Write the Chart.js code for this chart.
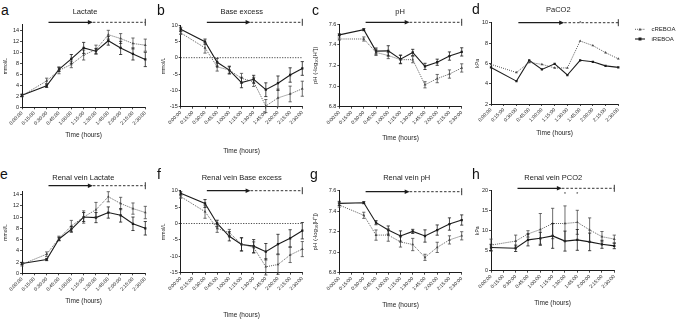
<!DOCTYPE html>
<html>
<head>
<meta charset="utf-8">
<script src="https://cdn.jsdelivr.net/npm/chart.js@4/dist/chart.umd.min.js"></script>
<style>
  html, body { margin: 0; padding: 0; background: #fff; }
  #fig { position: relative; width: 677px; height: 321px; overflow: hidden; }
  #fig canvas { position: absolute; }
  .tag { position: absolute; font: 14px "Liberation Sans", Arial, sans-serif; color: #111; line-height: 1; }
</style>
</head>
<body>
<div id="fig"></div>
<script>
/* ── data ── */
const TIMES  = ["0:00:00", "0:15:00", "0:30:00", "0:45:00", "1:00:00", "1:15:00",
                "1:30:00", "1:45:00", "2:00:00", "2:15:00", "2:30:00"];
const SERIES = ["cREBOA", "iREBOA"];

// a  Lactate (mmol/L)
const LAC_C    = [2.1, null, 4.8, 6.7, 7.8, 9.5, 10.5, 13.2, 12.5, 11.6, 11.3];
const LAC_C_SD = [0.2, null, 0.5, 0.6, 0.6, 0.9, 0.8, 0.8, 0.9, 1.0, 1.1];
const LAC_I    = [2.2, null, 3.9, 6.9, 8.8, 10.8, 10.2, 12.1, 10.8, 9.7, 8.7];
const LAC_I_SD = [0.2, null, 0.3, 0.4, 0.8, 1.0, 0.5, 0.8, 1.2, 1.1, 1.3];

// b  Base excess (mmol/L)
const BE_C    = [7.6, null, 3.0, -2.8, -3.8, -6.3, -7.4, -14.8, -12.3, -11.1, -9.5];
const BE_C_SD = [0.5, null, 1.6, 1.3, 1.0, 1.5, 1.4, 2.0, 2.7, 2.4, 2.3];
const BE_I    = [8.7, null, 4.9, -1.4, -3.8, -7.6, -6.6, -9.8, -7.8, -5.3, -3.3];
const BE_I_SD = [0.6, null, 0.8, 1.2, 1.2, 1.6, 1.2, 2.1, 2.2, 2.2, 2.1];

// c  pH
const PH_C    = [7.455, null, 7.455, 7.325, 7.295, 7.255, 7.255, 7.012, 7.072, 7.116, 7.175];
const PH_C_SD = [0.01, null, 0.02, 0.03, 0.03, 0.04, 0.03, 0.03, 0.04, 0.04, 0.04];
const PH_I    = [7.495, null, 7.545, 7.338, 7.34, 7.26, 7.325, 7.19, 7.23, 7.29, 7.33];
const PH_I_SD = [0.01, null, 0.01, 0.03, 0.05, 0.04, 0.03, 0.03, 0.03, 0.04, 0.04];

// d  PaCO2 (kPa)
const PACO2_C = [5.9, null, 5.1, 6.1, 5.9, 5.55, 5.55, 8.2, 7.75, 7.05, 6.45];
const PACO2_I = [5.6, null, 4.25, 6.3, 5.4, 5.95, 4.85, 6.3, 6.15, 5.75, 5.6];

// e  Renal vein lactate (mmol/L)
const RV_LAC_C    = [1.6, null, 3.4, 6.2, 8.4, 10.0, 11.3, 13.6, 12.4, 11.5, 10.8];
const RV_LAC_C_SD = [0.3, null, 0.4, 0.4, 1.0, 1.1, 1.3, 0.9, 1.1, 1.0, 1.1];
const RV_LAC_I    = [1.75, null, 2.45, 6.1, 7.8, 10.0, 9.9, 10.8, 10.3, 8.8, 8.0];
const RV_LAC_I_SD = [0.2, null, 0.2, 0.3, 0.5, 0.8, 0.9, 1.0, 1.2, 1.2, 1.2];

// f  Renal vein base excess (mmol/L)
const RV_BE_C    = [8.2, null, 3.6, -1.5, -2.8, -6.3, -7.3, -13.2, -12.5, -9.6, -7.8];
const RV_BE_C_SD = [0.5, null, 2.0, 1.2, 1.0, 2.0, 1.7, 2.5, 3.0, 2.3, 2.3];
const RV_BE_I    = [9.2, null, 6.1, 0.0, -3.9, -6.4, -6.9, -8.6, -6.3, -4.5, -2.2];
const RV_BE_I_SD = [0.5, null, 1.2, 1.0, 1.4, 2.0, 2.0, 2.5, 3.0, 2.6, 2.5];

// g  Renal vein pH
const RV_PH_C    = [7.46, null, 7.36, 7.167, 7.167, 7.1, 7.075, 6.95, 7.047, 7.12, 7.16];
const RV_PH_C_SD = [0.02, null, 0.03, 0.05, 0.06, 0.05, 0.06, 0.03, 0.05, 0.04, 0.04];
const RV_PH_I    = [7.476, null, 7.483, 7.288, 7.216, 7.158, 7.203, 7.158, 7.216, 7.275, 7.314];
const RV_PH_I_SD = [0.02, null, 0.01, 0.02, 0.04, 0.05, 0.02, 0.06, 0.05, 0.06, 0.05];

// h  Renal vein PCO2 (kPa)
const RV_PCO2_C    = [6.4, null, 7.4, 9.2, 10.3, 11.8, 11.8, 12.1, 10.2, 8.5, 7.9];
const RV_PCO2_C_SD = [1.5, null, 1.5, 0.8, 4.0, 3.8, 4.4, 3.0, 3.0, 1.3, 1.0];
const RV_PCO2_I    = [5.8, null, 5.6, 7.7, 8.1, 8.7, 7.4, 7.7, 7.2, 6.6, 6.2];
const RV_PCO2_I_SD = [0.8, null, 0.8, 1.5, 1.5, 3.1, 2.5, 2.6, 2.2, 1.0, 0.7];

// y tick labels
const TICKS_LAC   = [0, 2, 4, 6, 8, 10, 12, 14];
const TICKS_BE    = [-15, -10, -5, 0, 5, 10];
const TICKS_PH    = [6.8, 7.0, 7.2, 7.4, 7.6];
const TICKS_PACO2 = [2, 4, 6, 8, 10];
const TICKS_PCO2  = [0, 5, 10, 15, 20];

// intervention phases along the time axis (category index): start, end of occlusion, end
const PHASES = [2.15, 5.75, 10];

// significance marks (category index)
const STARS_D = [7];
const STARS_H = [6, 7];

/* ── style ── */
const FONT  = "'Liberation Sans', Arial, sans-serif";
const BLACK = "#1c1c1c";
const GREY  = "#484848";

/* ── panels (layout in page px) ── */
const PANELS = [
  { tag: "a", tagX: 1,   tagY: 3,     left: 3,   top: 0,   w: 157, h: 139, x0: 22,    x1: 145.3, yTop: 24.8,  yBot: 107.3,
    min: 0, max: 15, ticks: TICKS_LAC, yTitle: "mmol/L", yFont: 5, title: "Lactate", titleX: 85, titleY: 12.3, arrowY: 22.3,
    c: LAC_C, cSd: LAC_C_SD, i: LAC_I, iSd: LAC_I_SD },
  { tag: "b", tagX: 157, tagY: 3,     left: 161, top: 0,   w: 165, h: 155, x0: 180.7, x1: 302.3, yTop: 25,    yBot: 106.7,
    min: -15, max: 10, ticks: TICKS_BE, yTitle: "mmol/L", yFont: 5, title: "Base excess", titleX: 241.7, titleY: 12, arrowY: 22.3,
    zero: true, c: BE_C, cSd: BE_C_SD, i: BE_I, iSd: BE_I_SD },
  { tag: "c", tagX: 312, tagY: 3,     left: 312, top: 0,   w: 160, h: 142, x0: 339.3, x1: 461.7, yTop: 24,    yBot: 106.7,
    min: 6.8, max: 7.6, ticks: TICKS_PH, dec: 1, yTitle: "pH (-log\u2081\u2080[H\u207A])", yFont: 6, title: "pH", titleX: 400, titleY: 12.3, arrowY: 22.3,
    c: PH_C, cSd: PH_C_SD, i: PH_I, iSd: PH_I_SD },
  { tag: "d", tagX: 472, tagY: 1.5,   left: 475, top: 0,   w: 202, h: 137, x0: 491,   x1: 618.3, yTop: 22.7,  yBot: 104,
    min: 2, max: 10, ticks: TICKS_PACO2, yTitle: "kPa", yFont: 5, title: "PaCO2", titleX: 558.3, titleY: 10, arrowY: 22.7,
    stars: STARS_D, starY: 24, legend: true, c: PACO2_C, i: PACO2_I },
  { tag: "e", tagX: 0,   tagY: 166.5, left: 3,   top: 160, w: 157, h: 145, x0: 22,    x1: 145.3, yTop: 191.7, yBot: 273.3,
    min: 0, max: 14.5, ticks: TICKS_LAC, yTitle: "mmol/L", yFont: 5, title: "Renal vein Lactate", titleX: 83.3, titleY: 178, arrowY: 185.7,
    c: RV_LAC_C, cSd: RV_LAC_C_SD, i: RV_LAC_I, iSd: RV_LAC_I_SD },
  { tag: "f", tagX: 157, tagY: 166.5, left: 161, top: 160, w: 165, h: 159, x0: 180.7, x1: 302.3, yTop: 190.7, yBot: 272.7,
    min: -15, max: 10, ticks: TICKS_BE, yTitle: "mmol/L", yFont: 5, title: "Renal vein Base excess", titleX: 241.7, titleY: 178, arrowY: 190.7,
    zero: true, c: RV_BE_C, cSd: RV_BE_C_SD, i: RV_BE_I, iSd: RV_BE_I_SD },
  { tag: "g", tagX: 310, tagY: 166.5, left: 312, top: 160, w: 160, h: 149, x0: 339.3, x1: 461.7, yTop: 190.7, yBot: 272.7,
    min: 6.8, max: 7.6, ticks: TICKS_PH, dec: 1, yTitle: "pH (-log\u2081\u2080[H\u207A])", yFont: 6, title: "Renal vein pH", titleX: 406.7, titleY: 178, arrowY: 191.7,
    c: RV_PH_C, cSd: RV_PH_C_SD, i: RV_PH_I, iSd: RV_PH_I_SD },
  { tag: "h", tagX: 472, tagY: 166.5, left: 475, top: 160, w: 202, h: 147, x0: 491,   x1: 614.3, yTop: 190.7, yBot: 270.7,
    min: 0, max: 20, ticks: TICKS_PCO2, yTitle: "kPa", yFont: 5, title: "Renal vein PCO2", titleX: 553.3, titleY: 178, arrowY: 188.3,
    stars: STARS_H, starY: 195, c: RV_PCO2_C, cSd: RV_PCO2_C_SD, i: RV_PCO2_I, iSd: RV_PCO2_I_SD },
];

/* ── decorations: zero line, error bars, title, arrow, stars, legend ── */
function decorFor(p) {
  const ox = p.left, oy = p.top;
  return {
    id: "decor",
    beforeDatasetsDraw(chart) {
      if (!p.zero) return;
      const { ctx, chartArea: a, scales: { y } } = chart;
      const yy = y.getPixelForValue(0);
      ctx.save();
      ctx.strokeStyle = BLACK;
      ctx.lineWidth = 0.8;
      ctx.setLineDash([1.2, 1.4]);
      ctx.beginPath(); ctx.moveTo(a.left, yy); ctx.lineTo(a.right, yy); ctx.stroke();
      ctx.restore();
    },
    afterDatasetsDraw(chart) {
      const { ctx, scales: { y } } = chart;
      ctx.save();
      chart.data.datasets.forEach((ds, di) => {
        if (!ds.errors) return;
        const meta = chart.getDatasetMeta(di);
        ctx.strokeStyle = ds.borderColor;
        ctx.lineWidth = 0.8;
        ds.data.forEach((v, j) => {
          const e = ds.errors[j];
          if (v == null || !e) return;
          const x = meta.data[j].x;
          const hi = y.getPixelForValue(v + e), lo = y.getPixelForValue(v - e);
          ctx.beginPath();
          ctx.moveTo(x, hi); ctx.lineTo(x, lo);
          ctx.moveTo(x - 1.6, hi); ctx.lineTo(x + 1.6, hi);
          ctx.moveTo(x - 1.6, lo); ctx.lineTo(x + 1.6, lo);
          ctx.stroke();
        });
      });
      ctx.restore();
    },
    afterDraw(chart) {
      const { ctx, scales: { x } } = chart;
      ctx.save();
      // title
      ctx.fillStyle = BLACK;
      ctx.font = `7.5px ${FONT}`;
      ctx.textAlign = "center";
      ctx.textBaseline = "middle";
      ctx.fillText(p.title, p.titleX - ox, p.titleY - oy);

      // arrow: solid occlusion phase, dashed after, bar at end
      const ya = p.arrowY - oy;
      const xs = x.getPixelForValue(PHASES[0]);
      const xt = x.getPixelForValue(PHASES[1]);
      const xe = x.getPixelForValue(PHASES[2]);
      ctx.strokeStyle = BLACK;
      ctx.lineWidth = 1.3;
      ctx.beginPath(); ctx.moveTo(xs, ya); ctx.lineTo(xt - 4, ya); ctx.stroke();
      ctx.beginPath(); ctx.moveTo(xt, ya); ctx.lineTo(xt - 5, ya - 2.3); ctx.lineTo(xt - 5, ya + 2.3); ctx.closePath(); ctx.fill();
      ctx.lineWidth = 0.9;
      ctx.setLineDash([2.5, 1.8]);
      ctx.beginPath(); ctx.moveTo(xt, ya); ctx.lineTo(xe, ya); ctx.stroke();
      ctx.setLineDash([]);
      ctx.beginPath(); ctx.moveTo(xe, ya - 3.5); ctx.lineTo(xe, ya + 3.5); ctx.stroke();

      // significance
      if (p.stars) {
        ctx.font = `5px ${FONT}`;
        p.stars.forEach(k => ctx.fillText("*", x.getPixelForValue(k), p.starY - oy));
      }

      // legend
      if (p.legend) {
        const rows = [
          { label: SERIES[0], color: GREY, dash: [1, 1.1], y: 29.3, marker: "tri" },
          { label: SERIES[1], color: BLACK, dash: [], y: 39, marker: "rect" },
        ];
        rows.forEach(r => {
          const ly = r.y - oy;
          ctx.strokeStyle = r.color;
          ctx.fillStyle = r.color;
          ctx.lineWidth = r.dash.length ? 0.9 : 1.1;
          ctx.setLineDash(r.dash);
          ctx.beginPath(); ctx.moveTo(635 - ox, ly); ctx.lineTo(645 - ox, ly); ctx.stroke();
          ctx.setLineDash([]);
          if (r.marker === "rect") ctx.fillRect(640 - ox - 1.5, ly - 1.5, 3, 3);
          else { ctx.beginPath(); ctx.moveTo(640 - ox, ly - 1.6); ctx.lineTo(641.5 - ox, ly + 1.1); ctx.lineTo(638.5 - ox, ly + 1.1); ctx.closePath(); ctx.fill(); }
          ctx.fillStyle = BLACK;
          ctx.font = `6px ${FONT}`;
          ctx.textAlign = "left";
          ctx.fillText(r.label, 651.5 - ox, ly);
        });
      }
      ctx.restore();
    },
  };
}

/* ── build ── */
const fig = document.getElementById("fig");

function makePanel(p) {
  const tag = document.createElement("div");
  tag.className = "tag";
  tag.textContent = p.tag;
  tag.style.left = p.tagX + "px";
  tag.style.top = p.tagY + "px";
  fig.appendChild(tag);

  const cv = document.createElement("canvas");
  cv.width = p.w;
  cv.height = p.h;
  cv.style.left = p.left + "px";
  cv.style.top = p.top + "px";
  fig.appendChild(cv);

  const yW = p.x0 - p.left;
  const xH = p.h - (p.yBot - p.top);

  new Chart(cv, {
    type: "line",
    data: {
      labels: TIMES,
      datasets: [
        {
          label: SERIES[0], data: p.c, errors: p.cSd,
          borderColor: GREY, borderWidth: 0.9, borderDash: [1, 1.1],
          pointStyle: "triangle", pointRadius: 1.6, pointBackgroundColor: GREY, pointBorderWidth: 0,
          spanGaps: true, tension: 0,
        },
        {
          label: SERIES[1], data: p.i, errors: p.iSd,
          borderColor: BLACK, borderWidth: 1.1,
          pointStyle: "rect", pointRadius: 1.6, pointBackgroundColor: BLACK, pointBorderWidth: 0,
          spanGaps: true, tension: 0,
        },
      ],
    },
    options: {
      responsive: false,
      animation: false,
      devicePixelRatio: 1,
      events: [],
      layout: { padding: { left: 0, top: p.yTop - p.top, right: p.left + p.w - p.x1, bottom: 0 } },
      plugins: { legend: { display: false }, tooltip: { enabled: false } },
      scales: {
        x: {
          type: "category",
          offset: false,
          grid: { drawOnChartArea: false, tickLength: 2, color: BLACK, lineWidth: 0.8 },
          border: { color: BLACK, width: 1 },
          ticks: { minRotation: 45, maxRotation: 45, autoSkip: false, padding: 1, color: BLACK, font: { size: 5, family: FONT } },
          title: { display: true, text: "Time (hours)", color: BLACK, font: { size: 6.5, family: FONT }, padding: 0 },
          afterFit: s => { s.height = xH; },
        },
        y: {
          min: p.min,
          max: p.max,
          afterBuildTicks: s => { s.ticks = p.ticks.map(v => ({ value: v })); },
          grid: { drawOnChartArea: false, tickLength: 2, color: BLACK, lineWidth: 0.8 },
          border: { color: BLACK, width: 1 },
          ticks: {
            padding: 1, color: BLACK, font: { size: 5.5, family: FONT },
            callback: v => p.dec ? Number(v).toFixed(p.dec) : v,
          },
          title: { display: true, text: p.yTitle, color: BLACK, font: { size: p.yFont, family: FONT }, padding: 0 },
          afterFit: s => { s.width = yW; },
        },
      },
    },
    plugins: [decorFor(p)],
  });
}

PANELS.forEach(makePanel);
</script>
</body>
</html>
